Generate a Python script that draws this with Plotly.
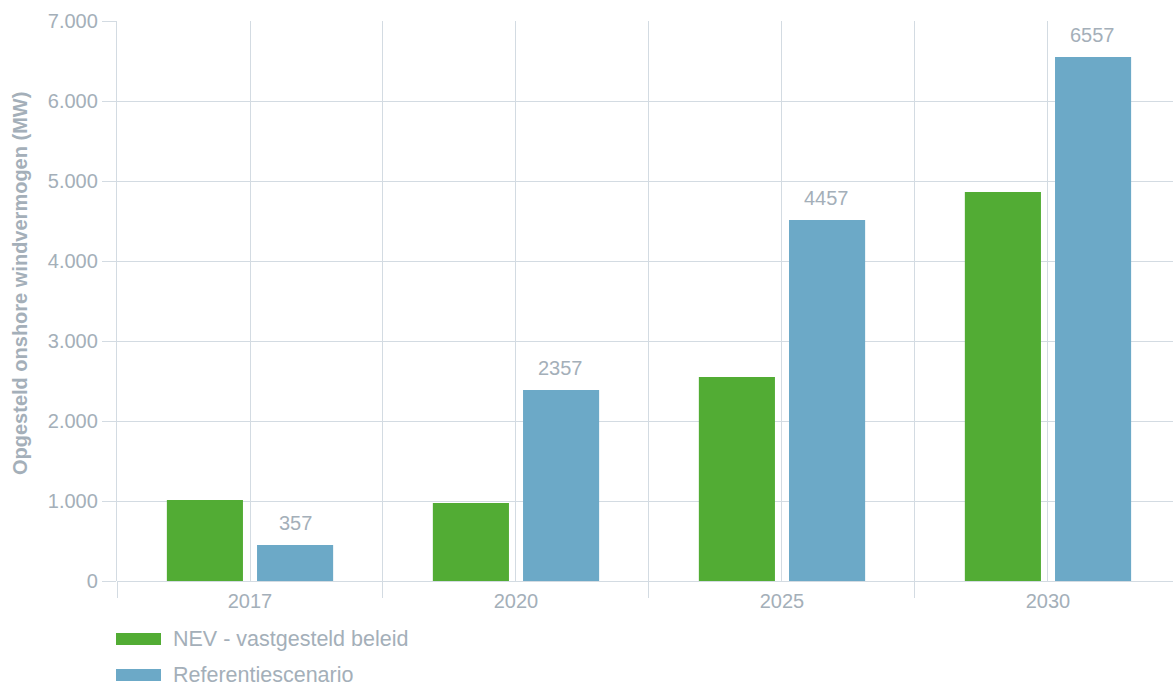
import plotly.graph_objects as go

years = ["2017", "2020", "2025", "2030"]
series_names = ["NEV - vastgesteld beleid", "Referentiescenario"]
nev_values = [1012, 975, 2550, 4862]
ref_values = [450, 2387, 4512, 6550]
ref_labels = ["357", "2357", "4457", "6557"]
y_tickvals = [0, 1000, 2000, 3000, 4000, 5000, 6000, 7000]

GREEN = "#52ac34"
BLUE = "#6ca9c7"
GRID = "#d3dbe2"
TEXT = "#a4afb9"
FONT = "Liberation Sans"

W, H = 1173, 688
ML, MT, MB, MR = 117, 21, 107, 0
plot_w = W - ML - MR
plot_h = H - MT - MB

fig = go.Figure()
fig.add_trace(go.Bar(x=years, y=nev_values, name=series_names[0],
                     marker=dict(color=GREEN, line=dict(width=0)), showlegend=False))
fig.add_trace(go.Bar(x=years, y=ref_values, name=series_names[1],
                     marker=dict(color=BLUE, line=dict(width=0)), showlegend=False))

# labels above blue bars (category index positions, shifted to the second bar of each group)
for i, (v, lab) in enumerate(zip(ref_values, ref_labels)):
    fig.add_annotation(x=i, y=v, text=lab, xref="x", yref="y", showarrow=False,
                       xshift=45, yanchor="bottom", yshift=9,
                       font=dict(family=FONT, size=20, color=TEXT))

# custom legend
leg_y = [633, 669]
for i, (nm, col) in enumerate(zip(series_names, [GREEN, BLUE])):
    y0 = (MT + plot_h - leg_y[i]) / plot_h
    y1 = (MT + plot_h - leg_y[i] - 12) / plot_h
    fig.add_shape(type="rect", xref="paper", yref="paper",
                  x0=-1 / plot_w, x1=44 / plot_w, y0=y0, y1=y1,
                  fillcolor=col, line=dict(width=0))
    fig.add_annotation(xref="paper", yref="paper", x=54 / plot_w, y=(y0 + y1) / 2,
                       text=nm, showarrow=False, xanchor="left", yanchor="middle",
                       font=dict(family=FONT, size=21.5, color=TEXT))

# y-axis title
fig.add_annotation(xref="paper", yref="paper", x=-(ML - 20) / plot_w,
                   y=(MT + plot_h - 284) / plot_h, text="<b>Opgesteld onshore windvermogen (MW)</b>",
                   textangle=-90, showarrow=False, xanchor="center", yanchor="middle",
                   font=dict(family=FONT, size=20, color=TEXT))

fig.update_layout(
    width=W, height=H,
    margin=dict(l=ML, r=MR, t=MT, b=MB),
    paper_bgcolor="white", plot_bgcolor="white",
    barmode="group", bargap=0.322, bargroupgap=0.156,
    separators=",.",
    font=dict(family=FONT, size=20, color=TEXT),
    showlegend=False,
    xaxis=dict(type="category", range=[-0.5, 3.47], tickson="boundaries",
               ticks="outside", ticklen=16, tickcolor=GRID, tickwidth=1.3,
               showgrid=True, gridcolor=GRID, gridwidth=1.3,
               showline=False, zeroline=False, ticklabelstandoff=6,
               tickfont=dict(family=FONT, size=20, color=TEXT)),
    xaxis2=dict(type="category", overlaying="x", matches="x", showgrid=True,
                gridcolor=GRID, gridwidth=1.3, showticklabels=False, ticks="",
                showline=False, zeroline=False),
    yaxis=dict(range=[0, 7000], tickvals=y_tickvals, tickformat=",d",
               ticks="outside", ticklen=14, tickcolor=GRID, tickwidth=1.3,
               showgrid=True, gridcolor=GRID, gridwidth=1.3,
               zeroline=True, zerolinecolor=GRID, zerolinewidth=1.3,
               showline=True, linecolor=GRID, linewidth=1.3,
               tickfont=dict(family=FONT, size=20, color=TEXT)),
)
# invisible trace to activate xaxis2 gridlines at category centers
fig.add_trace(go.Scatter(x=years, y=[None] * len(years), xaxis="x2", yaxis="y",
                         mode="markers", showlegend=False, hoverinfo="skip"))

fig.write_html("out.html", config={"displayModeBar": False},
               post_script="document.body.style.margin='0';")
